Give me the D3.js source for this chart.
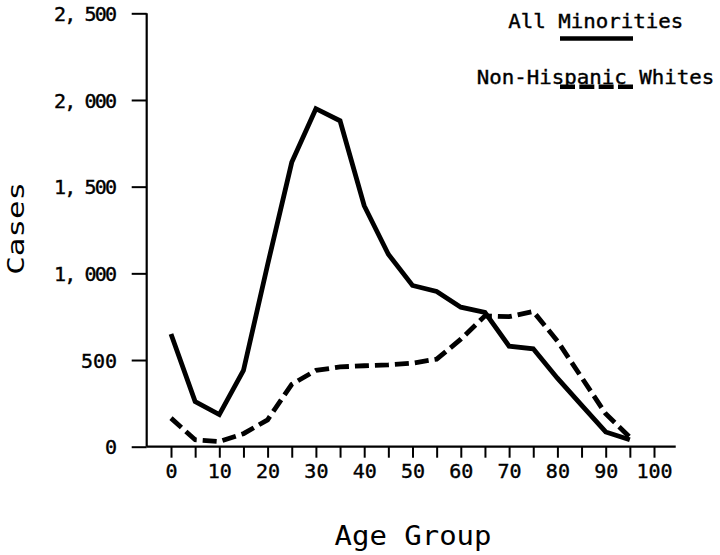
<!DOCTYPE html>
<html>
<head>
<meta charset="utf-8">
<script src="https://cdn.jsdelivr.net/npm/d3@7"></script>
<style>
  html, body { margin: 0; padding: 0; background: #fff; }
  svg { display: block; }
  text { font-family: "DejaVu Sans Mono", "Liberation Mono", monospace; fill: #000; stroke: #000; stroke-width: 0.4; }
  text.title { stroke: none; }
</style>
</head>
<body>
<svg id="chart" width="720" height="555"></svg>
<script>
// ---- data ----
const ageGroups = [0,5,10,15,20,25,30,35,40,45,50,55,60,65,70,75,80,85,90,95];
const allMinorities = [650,260,185,440,1050,1640,1950,1880,1390,1110,930,895,805,775,580,565,395,240,85,40];
const nonHispanicWhites = [165,40,30,75,155,360,440,460,467,472,482,505,620,755,750,780,610,400,190,55];
const xTickValues = [0,5,10,15,20,25,30,35,40,45,50,55,60,65,70,75,80,85,90,95,100];
const yTickValues = [0,500,1000,1500,2000,2500];
const seriesNames = ["All Minorities", "Non-Hispanic Whites"];
const xTitle = "Age Group";
const yTitle = "Cases";

// ---- layout ----
const svg = d3.select("#chart");
const axisX0 = 146.7;        // y-axis position
const axisY0 = 446.7;        // x-axis position
const x = d3.scaleLinear().domain([0, 100]).range([171, 654]);
const y = d3.scaleLinear().domain([0, 2500]).range([axisY0, 13.3]);

// axis lines
svg.append("line")
  .attr("x1", axisX0).attr("x2", x(104.5))
  .attr("y1", axisY0).attr("y2", axisY0)
  .attr("stroke", "#000").attr("stroke-width", 2.2);
svg.append("line")
  .attr("x1", axisX0).attr("x2", axisX0)
  .attr("y1", y(2500)).attr("y2", axisY0)
  .attr("stroke", "#000").attr("stroke-width", 2.2);

// x axis
const xAxis = d3.axisBottom(x)
  .tickValues(xTickValues)
  .tickSize(11)
  .tickPadding(20)
  .tickFormat(d => d % 10 === 0 ? d : "");
const gx = svg.append("g").attr("transform", `translate(0,${axisY0})`).call(xAxis);
gx.select(".domain").remove();
gx.selectAll(".tick line").attr("stroke", "#000").attr("stroke-width", 2);
gx.selectAll(".tick text")
  .attr("font-size", 20)
  .attr("font-family", "DejaVu Sans Mono")
  .attr("fill", "#000")
  .attr("dy", "0");

// y axis
const yAxis = d3.axisLeft(y)
  .tickValues(yTickValues)
  .tickSize(15)
  .tickPadding(14.7)
  .tickFormat(d => d3.format(",")(d).replace(",", ", "));
const gy = svg.append("g").attr("transform", `translate(${axisX0},0)`).call(yAxis);
gy.select(".domain").remove();
gy.selectAll(".tick line").attr("stroke", "#000").attr("stroke-width", 2);
gy.selectAll(".tick text")
  .attr("font-size", 20)
  .attr("font-family", "DejaVu Sans Mono")
  .attr("fill", "#000")
  .attr("dy", "0.36em")
  .each(function(d) {
    if (d >= 1000) d3.select(this).attr("textLength", 63).attr("lengthAdjust", "spacing");
  });

// axis titles
svg.append("text")
  .attr("class", "title")
  .attr("x", 413).attr("y", 545)
  .attr("text-anchor", "middle")
  .attr("font-size", 26)
  .attr("textLength", 157).attr("lengthAdjust", "spacingAndGlyphs")
  .text(xTitle);
svg.append("text")
  .attr("class", "title")
  .attr("transform", "translate(23.5,228.3) rotate(-90)")
  .attr("text-anchor", "middle")
  .attr("font-size", 23)
  .attr("textLength", 93).attr("lengthAdjust", "spacingAndGlyphs")
  .text(yTitle);

// lines
const line = d3.line()
  .x((d, i) => x(ageGroups[i]))
  .y(d => y(d));

svg.append("path")
  .datum(allMinorities)
  .attr("d", line)
  .attr("fill", "none")
  .attr("stroke", "#000")
  .attr("stroke-width", 4.8)
  .attr("stroke-linejoin", "miter");

svg.append("path")
  .datum(nonHispanicWhites)
  .attr("d", line)
  .attr("fill", "none")
  .attr("stroke", "#000")
  .attr("stroke-width", 4.8)
  .attr("stroke-dasharray", "14,6");

// legend
svg.append("text")
  .attr("x", 508.3).attr("y", 28.3)
  .attr("font-size", 20)
  .attr("textLength", 175).attr("lengthAdjust", "spacingAndGlyphs")
  .text(seriesNames[0]);
svg.append("line")
  .attr("x1", 560).attr("x2", 633)
  .attr("y1", 38.5).attr("y2", 38.5)
  .attr("stroke", "#000").attr("stroke-width", 4.5);
svg.append("text")
  .attr("x", 476.7).attr("y", 84)
  .attr("font-size", 20)
  .attr("textLength", 237.6).attr("lengthAdjust", "spacingAndGlyphs")
  .text(seriesNames[1]);
svg.append("line")
  .attr("x1", 560).attr("x2", 633)
  .attr("y1", 86.8).attr("y2", 86.8)
  .attr("stroke", "#000").attr("stroke-width", 4.5)
  .attr("stroke-dasharray", "15,4.33");
</script>
</body>
</html>
